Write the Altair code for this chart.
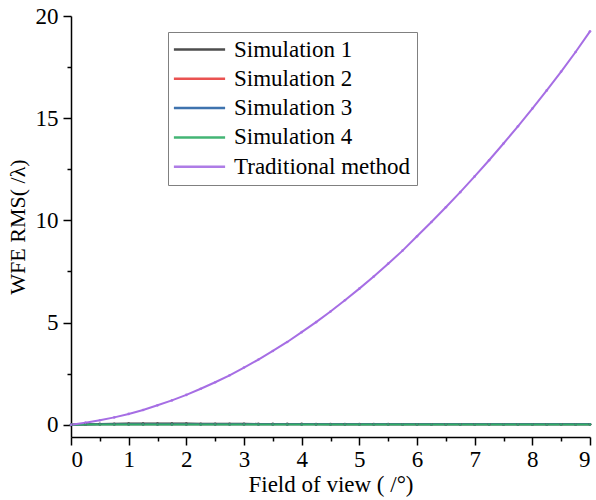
import altair as alt
import pandas as pd

fov = [0.0, 0.25, 0.5, 0.75, 1.0, 1.25, 1.5, 1.75, 2.0, 2.25, 2.5, 2.75, 3.0,
       3.25, 3.5, 3.75, 4.0, 4.25, 4.5, 4.75, 5.0, 5.25, 5.5, 5.75, 6.0,
       6.25, 6.5, 6.75, 7.0, 7.25, 7.5, 7.75, 8.0, 8.25, 8.5, 8.75, 9.0]

sim1 = [0.00, 0.02, 0.04, 0.05, 0.06, 0.06, 0.06, 0.06, 0.06, 0.05, 0.05, 0.05, 0.05,
        0.04, 0.04, 0.04, 0.04, 0.03, 0.03, 0.03, 0.03, 0.03, 0.03, 0.02, 0.02,
        0.02, 0.02, 0.02, 0.02, 0.02, 0.02, 0.02, 0.02, 0.02, 0.02, 0.02, 0.02]
sim2 = [0.00, 0.01, 0.02, 0.02, 0.02, 0.02, 0.02, 0.02, 0.02, 0.02, 0.02, 0.02, 0.02,
        0.02, 0.02, 0.02, 0.02, 0.02, 0.02, 0.02, 0.02, 0.02, 0.02, 0.02, 0.02,
        0.02, 0.02, 0.02, 0.02, 0.02, 0.02, 0.02, 0.02, 0.02, 0.02, 0.02, 0.02]
sim3 = [0.00, 0.01, 0.02, 0.02, 0.02, 0.02, 0.02, 0.02, 0.02, 0.02, 0.02, 0.02, 0.02,
        0.02, 0.02, 0.02, 0.02, 0.02, 0.02, 0.02, 0.02, 0.02, 0.02, 0.02, 0.02,
        0.02, 0.02, 0.02, 0.02, 0.02, 0.02, 0.02, 0.02, 0.02, 0.02, 0.02, 0.02]
sim4 = [0.00, 0.01, 0.01, 0.01, 0.01, 0.01, 0.01, 0.01, 0.01, 0.01, 0.01, 0.01, 0.01,
        0.01, 0.01, 0.01, 0.01, 0.01, 0.01, 0.01, 0.01, 0.01, 0.01, 0.01, 0.01,
        0.01, 0.01, 0.01, 0.01, 0.01, 0.01, 0.01, 0.01, 0.01, 0.01, 0.01, 0.01]
traditional = [0.00, 0.10, 0.22, 0.36, 0.53, 0.72, 0.95, 1.19, 1.46, 1.76, 2.08, 2.42, 2.80,
               3.19, 3.61, 4.05, 4.53, 5.02, 5.54, 6.09, 6.66, 7.25, 7.88, 8.52, 9.22,
               9.92, 10.64, 11.38, 12.15, 12.94, 13.76, 14.60, 15.47, 16.36, 17.28, 18.24, 19.25]

series_names = ["Simulation 1", "Simulation 2", "Simulation 3", "Simulation 4", "Traditional method"]
series_colors = ["#3a3a3a", "#e8403f", "#2a64a6", "#2fae66", "#a66ee4"]
series_values = [sim1, sim2, sim3, sim4, traditional]

x_major = [0, 1, 2, 3, 4, 5, 6, 7, 8, 9]
x_minor = [0.5, 1.5, 2.5, 3.5, 4.5, 5.5, 6.5, 7.5, 8.5]
y_major = [0, 5, 10, 15, 20]
y_minor = [2.5, 7.5, 12.5, 17.5]

rows = []
for name, vals in zip(series_names, series_values):
    for xv, yv in zip(fov, vals):
        rows.append({"fov": xv, "wfe": yv, "series": name})
df = pd.DataFrame(rows)

FONT = "Times New Roman, Liberation Serif, serif"

xscale = alt.Scale(domain=[0, 9], nice=False, zero=False)
yscale = alt.Scale(domain=[-0.6, 20], nice=False, zero=False)

lines = alt.Chart(df).mark_line(
    strokeWidth=2,
    point=alt.OverlayMarkDef(size=7, filled=True, opacity=0.9),
).encode(
    x=alt.X("fov:Q", scale=xscale,
            axis=alt.Axis(values=x_major, title="Field of view ( /°)", tickSize=8,
                          labelFontSize=23, titleFontSize=23, labelPadding=3,
                          titlePadding=2, format="d", labelFont=FONT, titleFont=FONT)),
    y=alt.Y("wfe:Q", scale=yscale,
            axis=alt.Axis(values=y_major, title="WFE RMS( /λ)", tickSize=8,
                          labelFontSize=23, titleFontSize=22, labelPadding=5,
                          titlePadding=6, format="d", labelFont=FONT, titleFont=FONT)),
    color=alt.Color("series:N",
                    scale=alt.Scale(domain=series_names, range=series_colors),
                    legend=alt.Legend(title=None, orient="none", legendX=97, legendY=16,
                                      symbolType="M-6.4,0H6.4", symbolSize=64,
                                      symbolStrokeWidth=2.5, symbolOffset=14,
                                      labelFont=FONT, labelFontSize=23, labelColor="black",
                                      labelLimit=400,
                                      strokeColor="#808080", padding=6, rowPadding=5.3,
                                      labelOffset=23)),
    order=alt.Order("series:N"),
)

minor = alt.Chart(df).mark_point(opacity=0).encode(
    x=alt.X("fov:Q", scale=xscale,
            axis=alt.Axis(values=x_minor, orient="bottom", labels=False, title=None,
                          domain=False, tickSize=4)),
    y=alt.Y("wfe:Q", scale=yscale,
            axis=alt.Axis(values=y_minor, orient="left", labels=False, title=None,
                          domain=False, tickSize=4)),
)

chart = alt.layer(lines, minor).resolve_axis(x="independent", y="independent").properties(
    width=519, height=421,
    autosize=alt.AutoSizeParams(type="none"),
    padding={"left": 71, "top": 16, "right": 6, "bottom": 63},
    background="white",
).configure(font=FONT).configure_view(stroke=None).configure_axis(
    grid=False, domainColor="black", domainWidth=1.5, tickColor="black", tickWidth=1.5,
    labelColor="black", titleColor="black", labelFont=FONT, titleFont=FONT,
    titleFontWeight="normal",
).configure_legend(labelFont=FONT)

chart.save("out.html", embed_options={"renderer": "svg", "actions": False})
